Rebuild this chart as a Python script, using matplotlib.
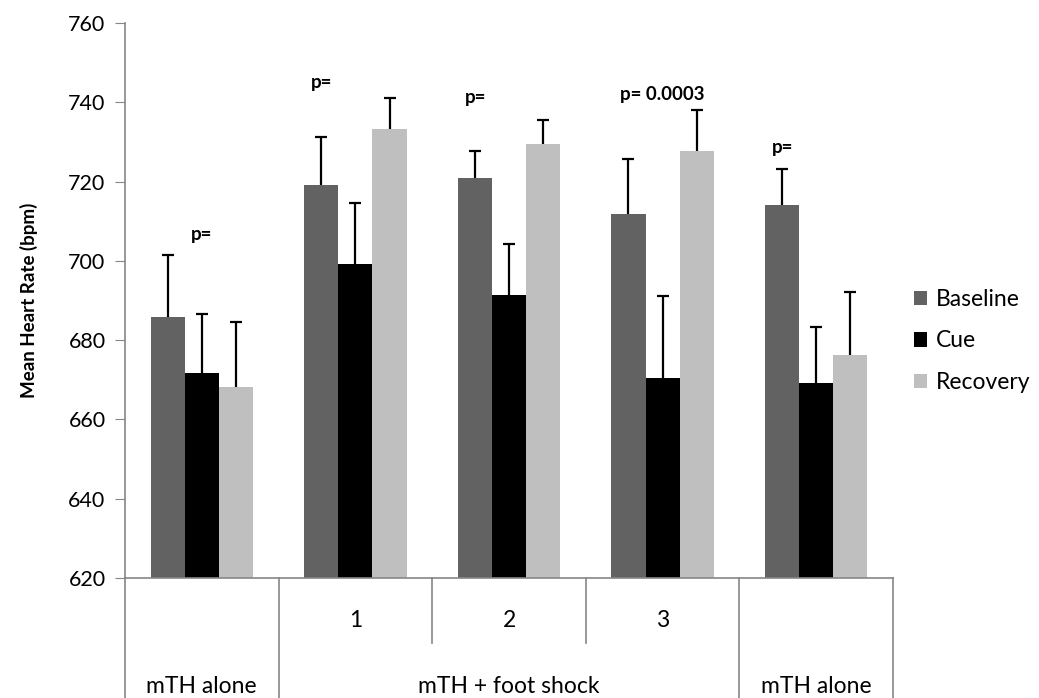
import matplotlib.pyplot as plt
import numpy as np

plt.rcParams['font.family'] = ['Lato', 'DejaVu Sans']

# mean heart rate per phase, for each session
series = ['Baseline', 'Cue', 'Recovery']
baseline = [685.8, 719.2, 720.8, 711.9, 714.2]
cue = [671.7, 699.2, 691.5, 670.5, 669.3]
recovery = [668.1, 733.2, 729.6, 727.6, 676.2]
baseline_err = [15.8, 12.0, 7.0, 13.9, 8.9]
cue_err = [15.0, 15.4, 12.8, 20.6, 14.1]
recovery_err = [16.4, 8.0, 5.9, 10.5, 15.9]
colors = ['#626262', '#000000', '#bfbfbf']

sub_labels = ['', '1', '2', '3', '']
group_labels = ['mTH alone', 'mTH + foot shock', 'mTH alone']
group_spans = [(0, 0), (1, 3), (4, 4)]

# p-value notes: (session, x offset, y, text)
p_notes = [(0, 0.0, 706.6, 'p='),
           (1, -0.22, 745.0, 'p='),
           (2, -0.22, 741.3, 'p='),
           (3, 0.0, 742.0, 'p= 0.0003'),
           (4, -0.22, 728.6, 'p=')]

fig = plt.figure(figsize=(10.39, 6.98), dpi=100)
ax = fig.add_axes([0.1203, 0.172, 0.7392, 0.795])

x = np.arange(len(baseline))
w = 1 / 4.5
means = [baseline, cue, recovery]
errs = [baseline_err, cue_err, recovery_err]
for i, (m, e) in enumerate(zip(means, errs)):
    pos = x + (i - 1) * w
    ax.bar(pos, np.array(m) - 620, w, bottom=620, color=colors[i], label=series[i], zorder=2)
    eb = ax.errorbar(pos, m, yerr=[np.zeros(len(e)), e], fmt='none', ecolor='black',
                     elinewidth=1.6, capsize=4.5, capthick=1.6, zorder=3)
    eb[1][0].set_visible(False)  # no cap at the bar top

for g, dx, y, txt in p_notes:
    ax.text(g + dx, y, txt, ha='center', va='center', fontsize=13.5, fontweight='bold')

ax.set_xlim(-0.5, 4.5)
ax.set_ylim(620, 760)
ax.set_yticks(np.arange(620, 761, 20))
ax.tick_params(axis='y', direction='out', length=7, color='#868686', labelsize=15.5, pad=7)
ax.set_xticks([])
for s in ['top', 'right']:
    ax.spines[s].set_visible(False)
for s in ['left', 'bottom']:
    ax.spines[s].set_color('#868686')
    ax.spines[s].set_linewidth(1.2)
ax.set_ylabel('Mean Heart Rate (bpm)', fontsize=13.5, fontweight='bold', labelpad=22)

# two-level category axis below the plot
trans = ax.get_xaxis_transform()
line_kw = dict(color='#868686', lw=1.2, transform=trans, clip_on=False)
for b in [-0.5, 0.5, 3.5, 4.5]:
    ax.plot([b, b], [0, -0.22], **line_kw)
for b in [1.5, 2.5]:
    ax.plot([b, b], [0, -0.117], **line_kw)
for i, lab in enumerate(sub_labels):
    ax.text(i, -0.0775, lab, transform=trans, ha='center', va='center', fontsize=16.5)
for (a, b), lab in zip(group_spans, group_labels):
    ax.text((a + b) / 2, -0.196, lab, transform=trans, ha='center', va='center', fontsize=16.5)

ax.legend(loc='center left', bbox_to_anchor=(1.0, 0.427), frameon=False, fontsize=16.5,
          handlelength=0.6, handleheight=0.6, handletextpad=0.35, labelspacing=0.9)

fig.savefig('out.png', dpi=100)
